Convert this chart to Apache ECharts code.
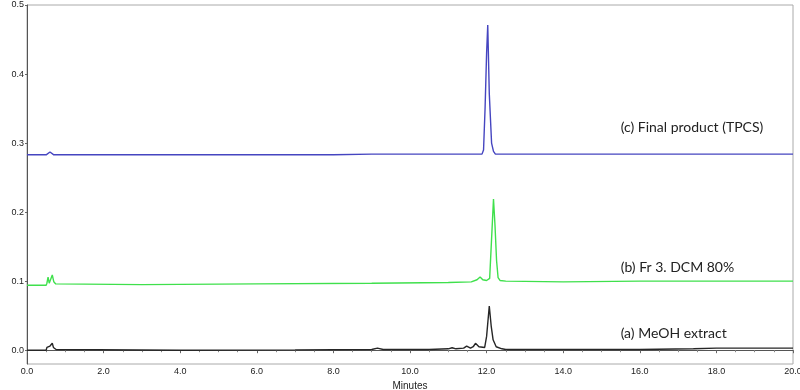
<!DOCTYPE html>
<html><head><meta charset="utf-8">
<script src="https://cdn.jsdelivr.net/npm/echarts@6/dist/echarts.min.js"></script>
<style>html,body{margin:0;padding:0;background:#fff}#c{width:800px;height:390px}</style>
</head><body><div id="c"></div>
<script>
// Retention time (min), absorbance (AU)
const seriesNames = ['(a) MeOH extract', '(b) Fr 3. DCM 80%', '(c) Final product (TPCS)'];
const xTicks = [0, 2, 4, 6, 8, 10, 12, 14, 16, 18, 20];
const yTicks = [0, 0.1, 0.2, 0.3, 0.4, 0.5];

const traceA = [
  [0,0],[0.5,0],[0.52,0.004],[0.56,0.003],[0.6,0.006],[0.63,0.004],[0.66,0.01],[0.69,0.004],[0.72,0.006],[0.76,0.001],[0.8,0],
  [4,0],[7,0.0005],[9,0.001],[9.15,0.003],[9.3,0.001],[10.5,0.001],[11,0.002],[11.1,0.0035],[11.2,0.002],[11.4,0.003],
  [11.48,0.006],[11.58,0.003],[11.65,0.005],[11.71,0.01],[11.8,0.005],[11.95,0.004],[12.0,0.02],[12.07,0.064],[12.12,0.035],
  [12.17,0.015],[12.25,0.005],[12.4,0.002],[12.5,0.001],[14,0.001],[16,0.001],[17.4,0.002],[18,0.003],[20,0.003]
];
const traceB = [
  [0,0.094],[0.5,0.094],[0.52,0.097],[0.55,0.106],[0.58,0.097],[0.62,0.099],[0.66,0.109],[0.7,0.099],[0.75,0.096],[0.8,0.095],
  [3,0.095],[6,0.096],[9,0.097],[11,0.098],[11.6,0.099],[11.75,0.102],[11.83,0.106],[11.9,0.102],[12.0,0.101],[12.08,0.104],
  [12.12,0.15],[12.18,0.219],[12.22,0.18],[12.26,0.13],[12.3,0.105],[12.35,0.101],[12.5,0.100],[14,0.099],[16,0.100],[18,0.100],[20,0.100]
];
const traceC = [
  [0,0.283],[0.5,0.283],[0.55,0.284],[0.6,0.287],[0.65,0.285],[0.7,0.283],[2,0.283],[4,0.283],[6,0.283],[8,0.283],[9,0.284],
  [11,0.284],[11.88,0.284],[11.92,0.29],[11.96,0.35],[12.0,0.43],[12.03,0.471],[12.07,0.372],[12.13,0.30],[12.18,0.288],
  [12.23,0.284],[14,0.284],[16,0.284],[18,0.284],[20,0.284]
];
const colors = ['#262626', '#3fe04c', '#4545c0'];
const labelAnchors = [[15.5, 0.024], [15.5, 0.12], [15.5, 0.323]];

const chart = echarts.init(document.getElementById('c'));
const axisText = {color:'#222', fontSize:9, fontFamily:'Liberation Sans, Arial'};
chart.setOption({
  animation:false,
  grid:{left:27, right:7, top:5, bottom:26, outerBoundsMode:'none', containLabel:false, show:true, borderColor:'#aaa', borderWidth:1},
  xAxis:{type:'value', min:0, max:20, interval:2, name:'Minutes', nameLocation:'middle', nameGap:13,
    nameTextStyle:{color:'#222', fontSize:10, fontFamily:'Liberation Sans, Arial'},
    axisLine:{lineStyle:{color:'#555'}}, axisTick:{length:3, lineStyle:{color:'#666'}},
    minorTick:{show:true, splitNumber:4, length:2, lineStyle:{color:'#888'}},
    splitLine:{show:false},
    axisLabel:Object.assign({margin:3, formatter:v=>xTicks.includes(v)?v.toFixed(1):''}, axisText)},
  yAxis:{type:'value', min:-0.02, max:0.5, splitNumber:5, name:'AU', nameLocation:'middle', nameGap:14,
    nameTextStyle:{color:'#222', fontSize:10, fontFamily:'Liberation Sans, Arial'},
    axisLine:{show:true, lineStyle:{color:'#555'}}, axisTick:{show:true, length:2, lineStyle:{color:'#666'}},
    splitLine:{show:false},
    axisLabel:Object.assign({margin:3, showMinLabel:false, formatter:v=>{const t=yTicks.find(y=>Math.abs(y-v)<1e-9);return t===undefined?'':t.toFixed(1);}}, axisText)},
  series:[traceA, traceB, traceC].map((d,i)=>({
    type:'line', data:d, showSymbol:false, smooth:false,
    lineStyle:{color:colors[i], width:1.4}, itemStyle:{color:colors[i]}
  }))
});
const g = labelAnchors.map((p,i)=>{
  const px = chart.convertToPixel({gridIndex:0}, p);
  return {type:'text', x:px[0], y:px[1], style:{text:seriesNames[i], fill:'#222', font:'14px Lato, "Open Sans", sans-serif', textVerticalAlign:'middle'}};
});
chart.setOption({graphic:g});
</script></body></html>
